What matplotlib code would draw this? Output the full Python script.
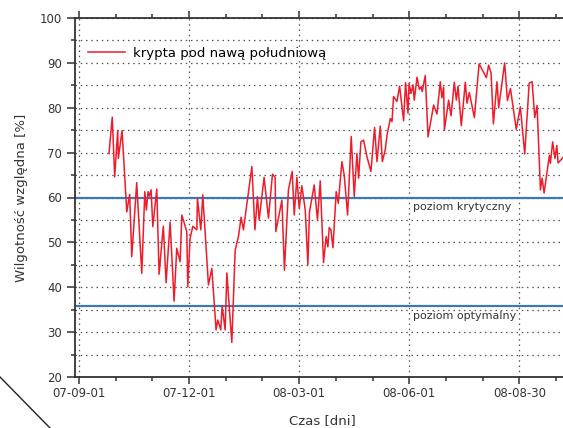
import matplotlib
matplotlib.use("Agg")
import matplotlib.pyplot as plt
from matplotlib.lines import Line2D
from matplotlib.ticker import MultipleLocator, FixedLocator

# dni liczone od 07-09-01
dzien = [24.8, 27.5, 29.5, 32.0, 32.5, 35.6, 39.5, 41.9, 43.6, 47.7, 51.9, 54.4, 55.7,
         57.1, 58.2, 59.6, 61.0, 64.3, 66.2, 69.7, 72.0, 75.3, 78.6, 80.8, 83.6, 85.0,
         89.1, 89.9, 91.8, 94.1, 97.4, 97.9, 100.7, 102.3, 107.0, 109.8, 113.3, 114.7,
         117.2, 118.3, 120.8, 122.2, 126.3, 129.1, 131.8, 134.0, 135.9, 142.9, 145.4,
         147.5, 148.9, 153.0, 156.6, 159.9, 162.1, 162.7, 167.7, 169.8, 173.1, 176.2,
         177.9, 180.1, 182.0, 184.2, 187.0, 189.2, 190.5, 194.4, 197.1, 199.4, 202.1,
         204.3, 205.7, 206.8, 208.2, 209.9, 212.6, 214.3, 217.3, 219.2, 222.0, 225.0,
         227.5, 229.7, 231.1, 233.0, 235.2, 238.0, 241.3, 244.3, 246.3, 249.0, 250.7,
         253.1, 254.6, 257.3, 258.7, 260.0, 262.8, 265.0, 268.3, 269.9, 271.9, 272.8,
         274.4, 276.1, 277.1, 279.4, 281.3, 282.9, 283.7, 286.2, 288.5, 293.1, 295.9,
         298.6, 300.0, 301.4, 302.0, 305.5, 307.5, 310.2, 311.9, 313.3, 316.0, 319.3,
         320.7, 322.6, 326.8, 330.7, 336.7, 338.6, 340.6, 342.5, 345.5, 346.9, 351.8,
         354.1, 356.6, 361.4, 364.8, 368.4, 372.1, 374.5, 376.7, 378.6, 381.4, 382.8,
         384.4, 388.8, 389.6, 391.5, 393.4, 394.9, 396.0, 398.7, 400.4]
wilgotnosc = [69.8, 77.9, 64.6, 74.9, 68.7, 74.9, 56.8, 60.7, 46.8, 63.3, 43.1, 61.3, 57.2,
              61.3, 60.3, 61.7, 53.5, 61.9, 42.9, 53.6, 41.0, 54.5, 36.9, 48.7, 45.7, 56.1,
              52.4, 40.1, 50.9, 53.6, 52.8, 59.8, 52.8, 60.6, 40.5, 44.2, 30.5, 32.7,
              30.5, 35.8, 30.5, 43.2, 27.7, 48.3, 51.3, 55.6, 52.8, 66.9, 52.8,
              60.2, 55.0, 64.5, 55.4, 65.2, 64.5, 52.4, 59.4, 43.8, 61.7, 65.8,
              56.1, 64.5, 57.6, 62.6, 57.2, 45.0, 56.8, 62.8, 55.0, 63.7, 45.5,
              51.3, 49.0, 53.3, 52.8, 48.8, 61.3, 58.7, 68.0, 65.0, 56.1, 73.6,
              60.2, 69.8, 64.3, 72.4, 72.8, 69.1, 65.8, 75.6, 68.0, 75.9, 68.0,
              70.6, 73.9, 77.6, 76.9, 82.5, 81.4, 84.8, 77.1, 85.6, 78.8, 85.4,
              83.2, 85.1, 81.7, 86.8, 84.1, 84.7, 83.6, 87.2, 73.5, 80.6, 78.6,
              85.8, 82.2, 84.6, 75.0, 81.7, 78.2, 85.7, 81.7, 84.8, 76.0, 85.7,
              81.0, 83.4, 77.8, 89.8, 86.7, 89.5, 87.7, 76.4, 85.8, 80.0, 90.0,
              81.6, 84.3, 75.2, 80.2, 69.7, 85.5, 85.8, 77.8, 80.5, 61.7, 64.3,
              61.0, 69.4, 67.6, 72.4, 68.7, 71.6, 67.7, 68.5, 69.0]

poziom_krytyczny = 60
poziom_optymalny = 35.8

tick_dni = [0, 91, 182, 273, 364]
tick_etykiety = ['07-09-01', '07-12-01', '08-03-01', '08-06-01', '08-08-30']

ciemny = '#333333'

fig = plt.figure(figsize=(5.63, 4.28), dpi=100)
ax = fig.add_axes([75/563, 51/428, 494/563, 359/428])

ax.axhline(poziom_krytyczny, color='#3b78b8', lw=1.6, zorder=2)
ax.axhline(poziom_optymalny, color='#3b78b8', lw=1.6, zorder=2)
ax.plot(dzien, wilgotnosc, color='#ee1c2a', lw=1.1, label='krypta pod nawą południową', zorder=3)

ax.text(276, 59, 'poziom krytyczny', fontsize=8, color=ciemny, va='top', ha='left')
ax.text(276, 34.6, 'poziom optymalny', fontsize=8, color=ciemny, va='top', ha='left')

ax.set_xlim(-3.3, 405)
ax.set_ylim(20, 100)
ax.xaxis.set_major_locator(FixedLocator(tick_dni))
ax.set_xticklabels(tick_etykiety)
ax.xaxis.set_minor_locator(FixedLocator([i * 91 / 3 for i in range(14) if i % 3]))
ax.yaxis.set_major_locator(MultipleLocator(10))
ax.yaxis.set_minor_locator(MultipleLocator(5))

ax.grid(True, which='both', axis='y', linestyle=(0, (1.2, 3)), color='#555555', lw=0.9)
ax.grid(True, which='major', axis='x', linestyle=(0, (1.2, 3)), color='#555555', lw=0.9)

ax.tick_params(axis='x', which='both', top=True, direction='out', colors=ciemny,
               labelsize=8.5, width=1.1, pad=2.5)
ax.tick_params(axis='x', which='major', length=5)
ax.tick_params(axis='x', which='minor', length=3.2)
ax.tick_params(axis='y', which='major', length=6, direction='out', colors=ciemny,
               labelsize=8.5, width=1.1)
ax.tick_params(axis='y', which='minor', length=3.2, direction='out', colors=ciemny, width=1.1)
for s in ax.spines.values():
    s.set_color(ciemny)
    s.set_linewidth(1.3)

ax.set_xlabel('Czas [dni]', fontsize=9.5, color=ciemny, labelpad=10)
ax.set_ylabel('Wilgotność względna [%]', fontsize=9.5, color=ciemny, labelpad=8)

ax.legend(loc='center left', bbox_to_anchor=(0.026, 0.9025), frameon=False,
          fontsize=9.5, handlelength=2.8, borderpad=0, borderaxespad=0,
          handletextpad=0.6)

# ukośna kreska w lewym dolnym rogu
fig.add_artist(Line2D([0, 50/563], [51/428, 0], color='#222222', lw=1,
                      transform=fig.transFigure))

fig.savefig('out.png', dpi=100)
